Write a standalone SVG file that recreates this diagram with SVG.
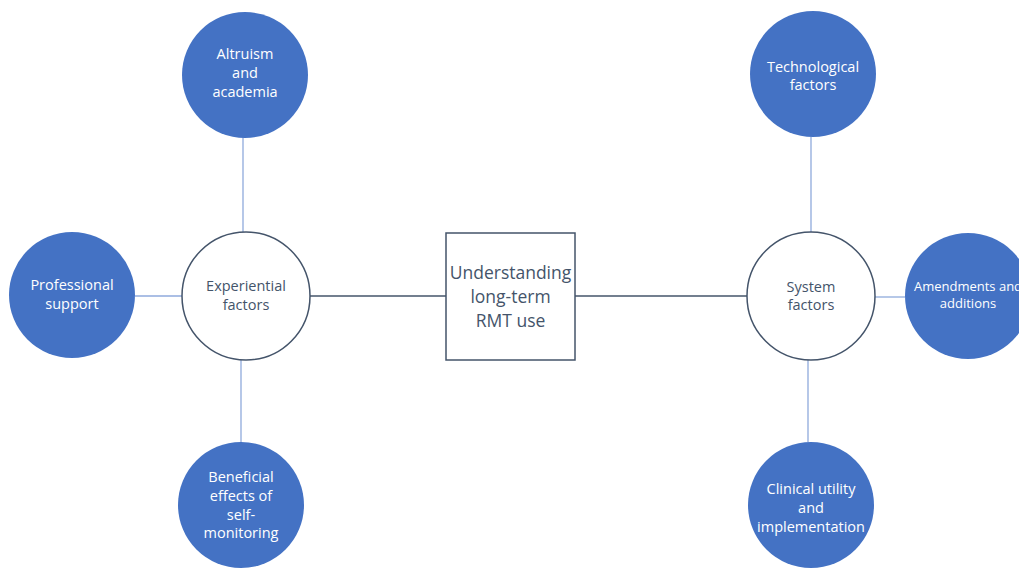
<svg xmlns="http://www.w3.org/2000/svg" width="1019" height="568" viewBox="0 0 1019 568">
<style>
.blue{fill:#4472c4;stroke:none}
.white{fill:#ffffff;stroke:#44546a;stroke-width:1.5}
.box{fill:#ffffff;stroke:#44546a;stroke-width:1.5}
.lt{stroke:#8faadc;stroke-width:1.3;fill:none}
.dk{stroke:#44546a;stroke-width:1.5;fill:none}
text{font-family:"Open Sans","Liberation Sans",sans-serif;text-anchor:middle}
.wt{fill:#ffffff;font-size:14.5px}
.gt{fill:#44546a;font-size:14.5px}
.bt{fill:#44546a;font-size:17.5px}
</style>
<rect width="1019" height="568" fill="#ffffff"/>
<g id="connectors">
<line class="lt" x1="243" y1="137" x2="243" y2="232"/>
<line class="lt" x1="135" y1="296" x2="182" y2="296"/>
<line class="lt" x1="241" y1="360" x2="241" y2="442"/>
<line class="dk" x1="310" y1="296" x2="446" y2="296"/>
<line class="dk" x1="575" y1="296" x2="747" y2="296"/>
<line class="lt" x1="811" y1="137" x2="811" y2="232"/>
<line class="lt" x1="875" y1="297" x2="905" y2="297"/>
<line class="lt" x1="808" y1="360" x2="808" y2="442"/>
</g>
<g id="center">
<rect class="box" x="446" y="233" width="129" height="127"/>
<text class="bt" x="510.5" y="279">Understanding</text>
<text class="bt" x="510.5" y="303">long-term</text>
<text class="bt" x="510.5" y="327">RMT use</text>
</g>
<g id="experiential">
<circle class="white" cx="246" cy="296" r="64"/>
<text class="gt" x="246" y="291">Experiential</text>
<text class="gt" x="246" y="310">factors</text>
</g>
<g id="system">
<circle class="white" cx="811" cy="296" r="64"/>
<text class="gt" x="811" y="292">System</text>
<text class="gt" x="811" y="310">factors</text>
</g>
<g id="altruism">
<circle class="blue" cx="245" cy="75" r="63"/>
<text class="wt" x="245" y="59">Altruism</text>
<text class="wt" x="245" y="78">and</text>
<text class="wt" x="245" y="97">academia</text>
</g>
<g id="professional">
<circle class="blue" cx="72" cy="295" r="63"/>
<text class="wt" x="72" y="290">Professional</text>
<text class="wt" x="72" y="309">support</text>
</g>
<g id="beneficial">
<circle class="blue" cx="241" cy="505" r="63"/>
<text class="wt" x="241" y="482">Beneficial</text>
<text class="wt" x="241" y="501">effects of</text>
<text class="wt" x="241" y="520">self-</text>
<text class="wt" x="241" y="538">monitoring</text>
</g>
<g id="technological">
<circle class="blue" cx="813" cy="74" r="63"/>
<text class="wt" x="813" y="72">Technological</text>
<text class="wt" x="813" y="90">factors</text>
</g>
<g id="amendments">
<circle class="blue" cx="968" cy="296" r="63"/>
<text class="wt" x="968" y="291" style="font-size:13px">Amendments and</text>
<text class="wt" x="968" y="308" style="font-size:13px">additions</text>
</g>
<g id="clinical">
<circle class="blue" cx="811" cy="505" r="63"/>
<text class="wt" x="811" y="494">Clinical utility</text>
<text class="wt" x="811" y="513">and</text>
<text class="wt" x="811" y="532">implementation</text>
</g>
</svg>
